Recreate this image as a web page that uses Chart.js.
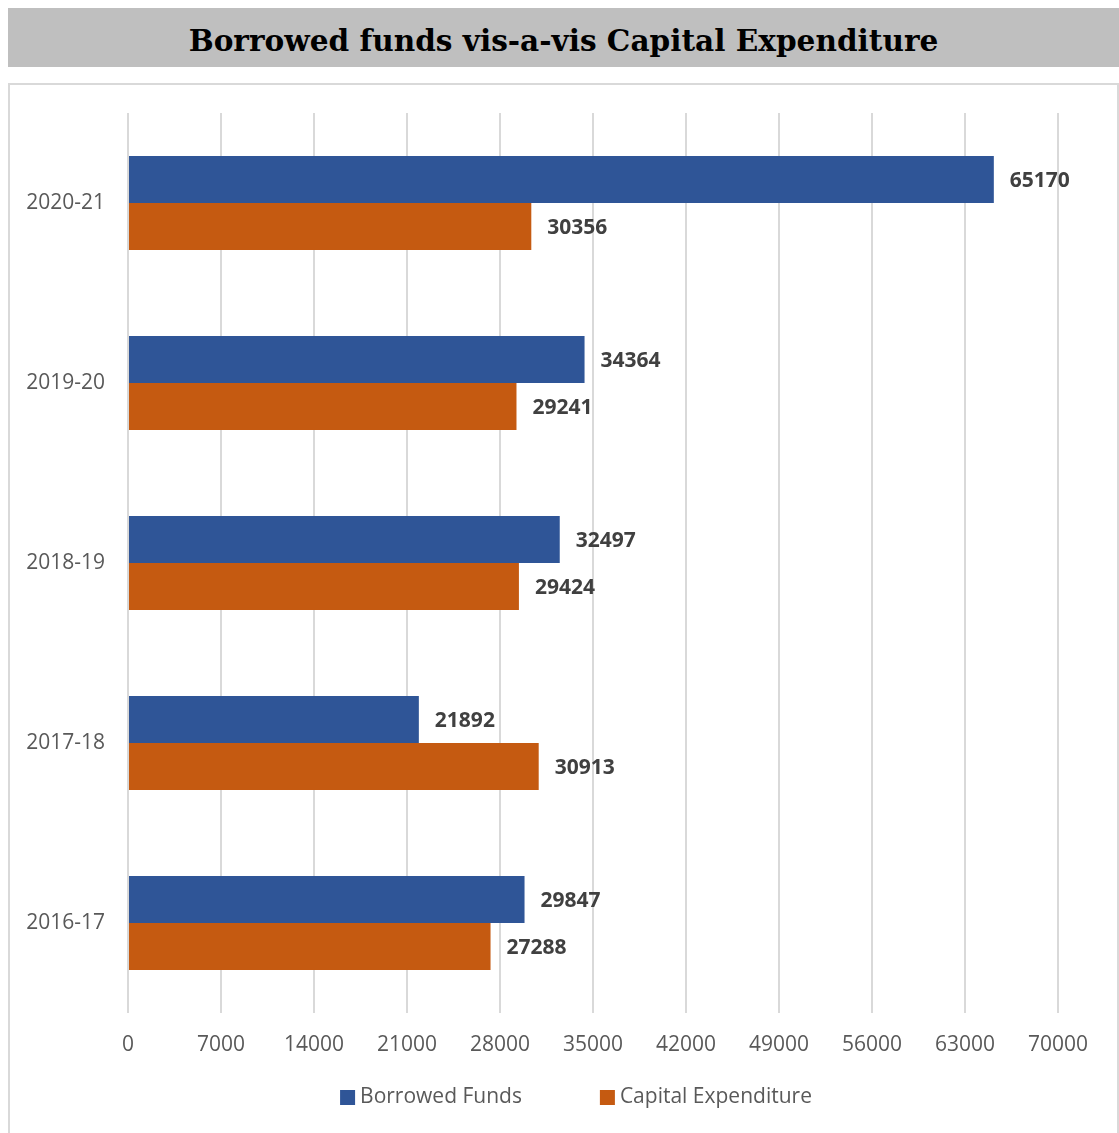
<!DOCTYPE html>
<html><head><meta charset="utf-8">
<script src="https://cdn.jsdelivr.net/npm/chart.js@4.4.0/dist/chart.umd.min.js"></script>
<style>
html,body{margin:0;padding:0;background:#fff;width:1119px;height:1133px;overflow:hidden;}
#banner{position:absolute;left:8px;top:8px;width:1111px;height:59px;background:#bfbfbf;display:flex;align-items:center;justify-content:center;}
#banner h1{margin:0;padding-top:6px;font-family:"DejaVu Serif";font-weight:bold;font-size:30px;color:#000;white-space:nowrap;line-height:1;}
#frame{position:absolute;left:8px;top:83px;width:1107px;height:1060px;border:2px solid #d9d9d9;}
#wrap{position:absolute;left:0;top:0;width:1119px;height:1133px;}
</style></head><body>
<div id="banner"><h1 id="title">Borrowed funds vis-a-vis Capital Expenditure</h1></div>
<div id="frame"></div>
<div id="wrap"><canvas id="c"></canvas></div>
<script>
const categories = ['2020-21', '2019-20', '2018-19', '2017-18', '2016-17'];
const borrowedFunds = [65170, 34364, 32497, 21892, 29847];
const capitalExpenditure = [30356, 29241, 29424, 30913, 27288];
const seriesNames = ['Borrowed Funds', 'Capital Expenditure'];
const axisMin = 0, axisMax = 70000, axisStep = 7000;

// fit title width
(function(){
  const t = document.getElementById('title');
  const w = t.getBoundingClientRect().width;
  const target = 750;
  t.style.fontSize = (30 * target / w).toFixed(2) + 'px';
})();

const valueLabels = {
  id: 'valueLabels',
  afterDatasetsDraw(chart) {
    const ctx = chart.ctx;
    ctx.save();
    ctx.font = 'bold 21px "Open Sans"';
    ctx.fillStyle = '#404040';
    ctx.textBaseline = 'middle';
    ctx.textAlign = 'left';
    chart.data.datasets.forEach((ds, i) => {
      chart.getDatasetMeta(i).data.forEach((bar, j) => {
        ctx.fillText(String(ds.data[j]), bar.x + 16, bar.y + 2);
      });
    });
    ctx.restore();
  }
};

const bottomLegend = {
  id: 'bottomLegend',
  afterDraw(chart) {
    const ctx = chart.ctx;
    ctx.save();
    ctx.font = '21px "Open Sans"';
    const box = 15, gap = 5, itemGap = 78;
    const items = chart.data.datasets.map(d => ({text: d.label, color: d.backgroundColor, w: ctx.measureText(d.label).width}));
    const total = items.reduce((s, it) => s + box + gap + it.w, 0) + itemGap * (items.length - 1);
    let x = 576 - total / 2;
    const y = 1097;
    ctx.textBaseline = 'middle';
    ctx.textAlign = 'left';
    items.forEach(it => {
      ctx.fillStyle = it.color;
      ctx.fillRect(x, y - 7, box, box);
      x += box + gap;
      ctx.fillStyle = '#595959';
      ctx.fillText(it.text, x, y);
      x += it.w + itemGap;
    });
    ctx.restore();
  }
};

new Chart(document.getElementById('c'), {
  type: 'bar',
  data: {
    labels: categories,
    datasets: [
      {label: seriesNames[0], data: borrowedFunds, backgroundColor: '#2F5597', borderWidth: 0, barPercentage: 1, categoryPercentage: 0.522},
      {label: seriesNames[1], data: capitalExpenditure, backgroundColor: '#C55A11', borderWidth: 0, barPercentage: 1, categoryPercentage: 0.522}
    ]
  },
  options: {
    indexAxis: 'y',
    responsive: true,
    maintainAspectRatio: false,
    animation: false,
    layout: {padding: {top: 113, right: 61, left: 0, bottom: 0}},
    plugins: {legend: {display: false}, tooltip: {enabled: false}, title: {display: false}},
    scales: {
      x: {
        min: axisMin, max: axisMax,
        ticks: {stepSize: axisStep, color: '#595959', font: {family: 'Open Sans', size: 21}, padding: 19, maxRotation: 0, callback: v => String(v)},
        grid: {color: '#d9d9d9', lineWidth: 2, drawTicks: false},
        border: {display: false},
        afterFit(scale) { scale.height = 120; }
      },
      y: {
        ticks: {color: '#595959', font: {family: 'Open Sans', size: 21}, padding: 23},
        grid: {display: false, drawTicks: false},
        border: {display: false},
        afterFit(scale) { scale.width = 128; }
      }
    }
  },
  plugins: [valueLabels, bottomLegend]
});
</script>
</body></html>
